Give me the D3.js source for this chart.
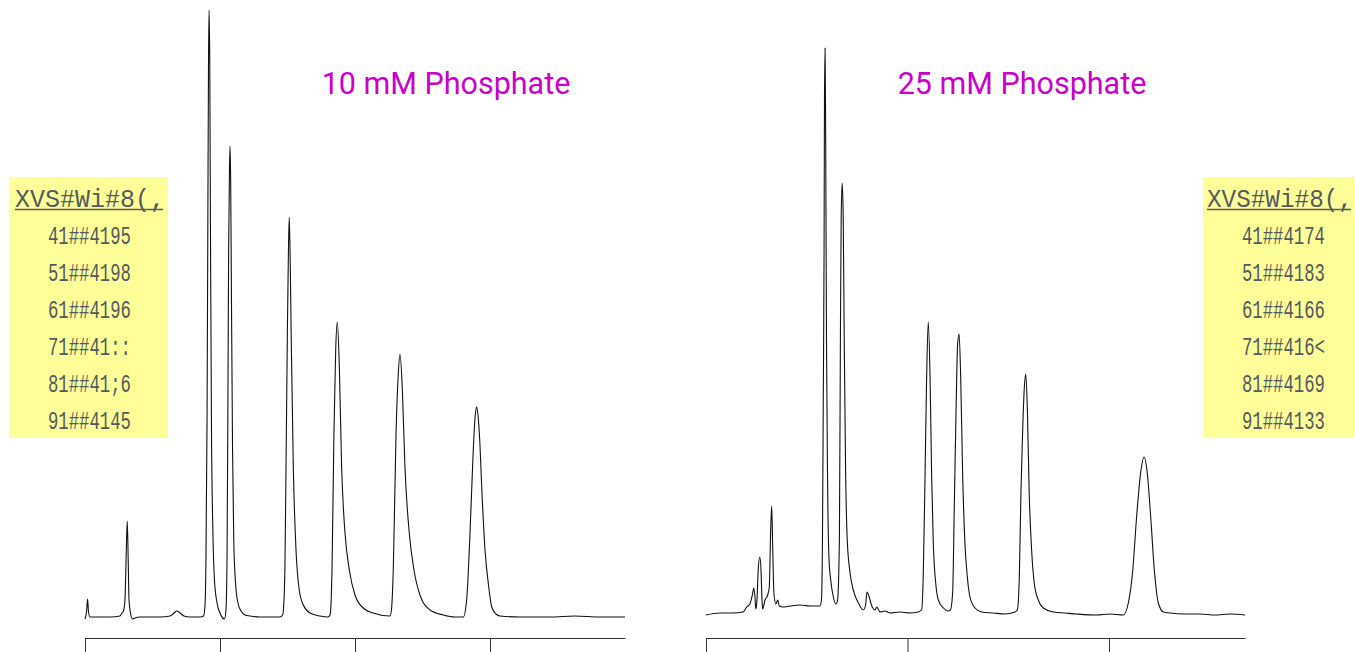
<!DOCTYPE html>
<html>
<head>
<meta charset="utf-8">
<script src="https://cdn.jsdelivr.net/npm/d3@7"></script>
<style>
  html, body { margin: 0; padding: 0; background: #fff; }
  svg { display: block; }
</style>
</head>
<body>
<svg id="chart" width="1355" height="652"></svg>
<script>
// ---------- data ----------
// Left chromatogram: 10 mM Phosphate  (time in min, signal in arbitrary units)
const leftTime = [0.000,0.011,0.019,0.026,0.037,0.111,0.185,0.259,0.274,0.285,0.296,0.306,0.313,0.320,0.326,0.337,0.352,0.370,0.407,0.481,0.556,0.630,0.659,0.681,0.704,0.733,0.778,0.852,0.878,0.889,0.896,0.904,0.910,0.915,0.919,0.924,0.930,0.937,0.947,0.959,0.978,1.000,1.019,1.033,1.044,1.052,1.058,1.064,1.070,1.074,1.079,1.085,1.093,1.102,1.115,1.133,1.156,1.185,1.222,1.296,1.370,1.444,1.464,1.474,1.481,1.489,1.499,1.507,1.513,1.520,1.527,1.543,1.563,1.587,1.617,1.667,1.741,1.800,1.815,1.822,1.830,1.844,1.857,1.869,1.884,1.901,1.926,1.958,2.000,2.061,2.133,2.259,2.270,2.284,2.304,2.321,2.333,2.350,2.370,2.402,2.437,2.481,2.556,2.654,2.741,2.802,2.827,2.852,2.876,2.891,2.901,2.911,2.921,2.943,2.963,2.987,3.013,3.044,3.074,3.222,3.444,3.630,3.815,4.000];
const leftSignal = [-2,5,18,5,0,0,0,1,4,6,17,67,96,57,17,4,-2,-1,0,0,0,1,4,6,4,1,0,0,1,12,57,197,397,557,607,557,367,187,87,37,14,4,-1,-2,7,57,197,367,445,471,437,317,167,77,34,14,6,2,1,0,0,0,2,17,50,150,284,367,400,357,284,150,67,27,12,4,1,0,2,12,50,184,267,295,250,150,84,47,22,9,4,1,7,50,184,244,263,230,150,84,47,22,7,2,0,0,17,84,167,202,210,202,184,117,67,34,10,3,1,0,0,1,0,0];

// Right chromatogram: 25 mM Phosphate
const rightTime = [0.000,0.069,0.134,0.184,0.202,0.218,0.230,0.237,0.243,0.247,0.252,0.260,0.267,0.273,0.278,0.281,0.293,0.306,0.314,0.321,0.326,0.331,0.337,0.347,0.356,0.364,0.381,0.417,0.467,0.516,0.566,0.573,0.578,0.582,0.586,0.588,0.591,0.594,0.598,0.603,0.610,0.619,0.632,0.645,0.653,0.662,0.667,0.671,0.676,0.681,0.686,0.693,0.701,0.715,0.731,0.756,0.781,0.792,0.799,0.805,0.814,0.825,0.839,0.847,0.864,0.888,0.913,0.963,1.012,1.052,1.070,1.078,1.087,1.095,1.103,1.112,1.120,1.128,1.140,1.153,1.178,1.202,1.213,1.224,1.232,1.241,1.249,1.256,1.264,1.274,1.285,1.297,1.310,1.335,1.368,1.426,1.484,1.533,1.545,1.555,1.563,1.572,1.580,1.587,1.595,1.604,1.616,1.629,1.649,1.674,1.724,1.782,1.840,1.939,2.005,2.071,2.096,2.118,2.137,2.157,2.174,2.190,2.207,2.225,2.245,2.270,2.303,2.377,2.452,2.526,2.600,2.675];
const rightSignal = [2,4,4,5,10,13,22,29,20,8,14,50,60,47,17,8,17,22,30,87,111,70,24,13,17,11,10,11,12,11,11,17,77,217,367,517,569,477,277,144,60,37,20,13,17,77,277,400,434,400,277,144,77,44,27,14,7,12,25,23,17,10,7,10,5,6,4,5,4,5,7,40,140,240,295,240,140,74,34,17,9,6,7,24,107,207,274,283,240,140,74,40,20,9,5,4,3,5,7,40,124,190,230,243,207,124,67,34,17,9,5,4,3,2,3,2,14,47,100,144,160,144,100,47,14,5,4,3,3,2,3,2];

const leftTicks = [0, 1, 2, 3];
const rightTicks = [0, 1, 2];

const titles = ["10 mM Phosphate", "25 mM Phosphate"];

const leftTableHeader = "XVS#Wi#8(,";
const leftTableRows = ["41##4195", "51##4198", "61##4196", "71##41::", "81##41;6", "91##4145"];
const rightTableHeader = "XVS#Wi#8(,";
const rightTableRows = ["41##4174", "51##4183", "61##4166", "71##416<", "81##4169", "91##4133"];

// ---------- drawing ----------
const svg = d3.select("#chart");

const xL = d3.scaleLinear().domain([0, 4]).range([85, 625]);
const xR = d3.scaleLinear().domain([0, 2.675]).range([706, 1245]);
const y = d3.scaleLinear().domain([0, 610]).range([617, 7]);

function drawTrace(times, signals, x) {
  const pts = times.map((t, i) => [t, signals[i]]);
  const line = d3.line()
    .x(d => x(d[0]))
    .y(d => y(d[1]))
    .curve(d3.curveMonotoneX);
  svg.append("path")
    .datum(pts)
    .attr("d", line)
    .attr("fill", "none")
    .attr("stroke", "#111")
    .attr("stroke-width", 1.1)
    .attr("stroke-linejoin", "round");
}

function drawAxis(x, ticks) {
  const g = svg.append("g")
    .attr("transform", "translate(0,638)")
    .call(d3.axisBottom(x).tickValues(ticks).tickSize(20).tickSizeOuter(0).tickFormat(() => ""));
  g.select(".domain").attr("stroke", "#333").attr("stroke-width", 1);
  g.selectAll(".tick line").attr("stroke", "#333").attr("stroke-width", 1);
  g.selectAll(".tick text").remove();
}

const monoFont = "'Liberation Mono', 'DejaVu Sans Mono', monospace";
const FS = 25;

// draws text squeezed horizontally to a target width (keeps real, correctly measured text)
function squeezedText(str, x, yPos, targetW) {
  const t = svg.append("text")
    .attr("font-family", monoFont)
    .attr("font-size", FS)
    .attr("fill", "#555a5e")
    .text(str);
  const w = t.node().getComputedTextLength();
  t.attr("transform", `translate(${x},${yPos}) scale(${targetW / w},1)`);
  return t;
}

function drawTable(x0, x1, header, rows, rowX, headerX, headerW) {
  svg.append("rect")
    .attr("x", x0).attr("y", 177)
    .attr("width", x1 - x0).attr("height", 261)
    .attr("fill", "#ffff99");
  squeezedText(header, headerX, 207, headerW);
  svg.append("line")
    .attr("x1", headerX).attr("x2", headerX + headerW - 2)
    .attr("y1", 209.5).attr("y2", 209.5)
    .attr("stroke", "#555a5e").attr("stroke-width", 1.6);
  rows.forEach((r, i) => squeezedText(r, rowX, 244 + i * 37, 83));
}

drawTable(9, 168, leftTableHeader, leftTableRows, 48, 15, 150);
drawTable(1203, 1355, rightTableHeader, rightTableRows, 1242, 1207, 146);

drawTrace(leftTime, leftSignal, xL);
drawTrace(rightTime, rightSignal, xR);

drawAxis(xL, leftTicks);
drawAxis(xR, rightTicks);

svg.selectAll(null)
  .data(titles)
  .enter().append("text")
  .attr("x", (d, i) => i === 0 ? 446 : 1022)
  .attr("y", 94)
  .attr("text-anchor", "middle")
  .attr("font-family", "Roboto, sans-serif")
  .attr("font-size", 30.5)
  .attr("fill", "#cc00cc")
  .text(d => d);
</script>
</body>
</html>
